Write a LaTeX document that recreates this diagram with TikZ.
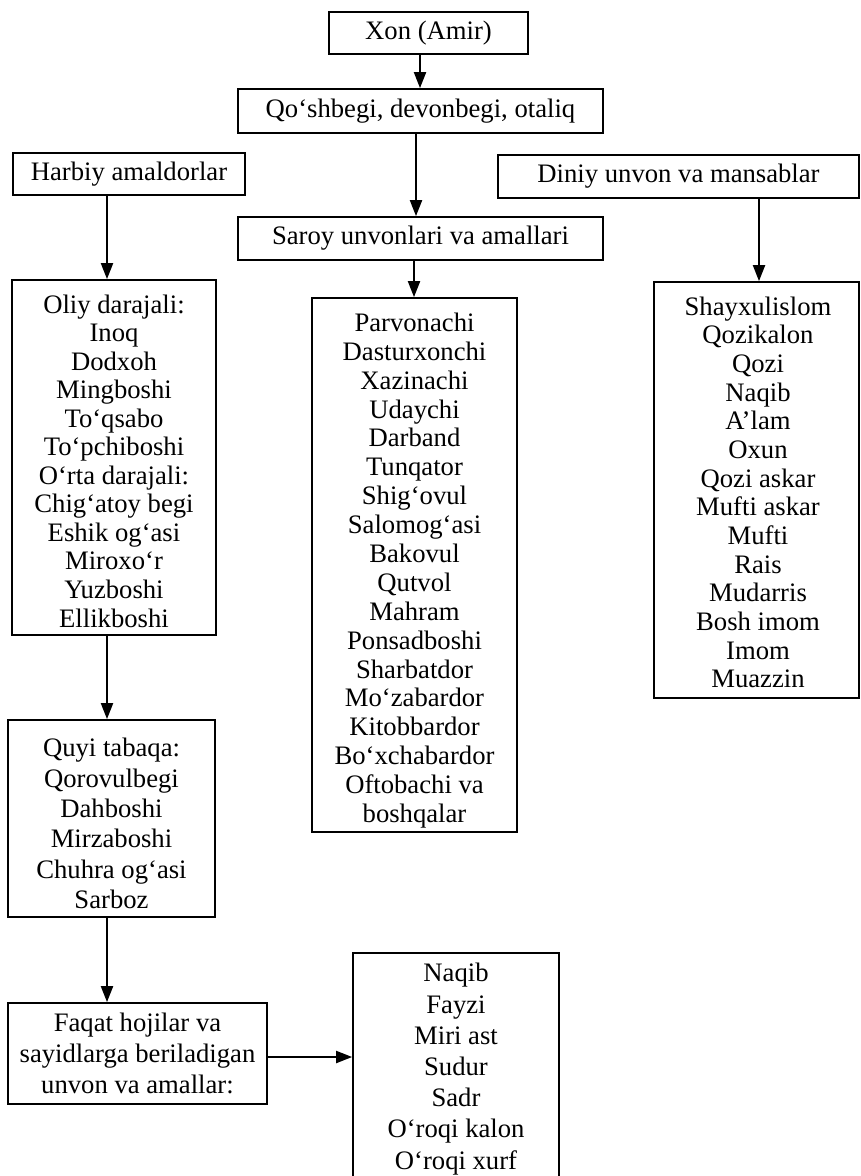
\documentclass[tikz,border=0pt]{standalone}
\usepackage{fontspec}
\setmainfont{Liberation Serif}
\usetikzlibrary{arrows.meta}
\tikzset{
  box/.style={draw, line width=1.3pt, inner sep=0pt, align=center,
              font=\fontsize{20}{21.5}\selectfont},
  frame/.style={draw, line width=1.3pt, inner sep=0pt},
  list/.style={inner sep=0pt, align=center},
  arr/.style={line width=1.5pt, -{Triangle[length=12pt,width=9pt]}},
}
\begin{document}
\begin{tikzpicture}[x=0.75pt,y=-0.75pt]
\useasboundingbox (0,0) rectangle (860,1176);
\fill[white] (0,0) rectangle (860,1176);

% header boxes
\node[box, minimum width=149.25pt, minimum height=31.5pt] (xon) at (428.5,33) {Xon (Amir)};
\node[box, minimum width=273.75pt, minimum height=33pt] (qosh) at (420.5,111) {Qo‘shbegi, devonbegi, otaliq};
\node[box, minimum width=174pt, minimum height=31.5pt] (harbiy) at (129,174) {Harbiy amaldorlar};
\node[box, minimum width=270.75pt, minimum height=32.25pt] (diniy) at (678.5,176.5) {Diniy unvon va mansablar};
\node[box, minimum width=273.75pt, minimum height=32.25pt] (saroy) at (420.5,238.5) {Saroy unvonlari va amallari};

% list boxes (frame + text)
\node[frame, minimum width=153pt, minimum height=266.25pt] (oliy) at (114,457.5) {};
\node[list, font=\fontsize{20}{21.4}\selectfont] (oliyt) at (114,461)
  {Oliy darajali:\\Inoq\\Dodxoh\\Mingboshi\\To‘qsabo\\To‘pchiboshi\\O‘rta darajali:\\Chig‘atoy begi\\Eshik og‘asi\\Miroxo‘r\\Yuzboshi\\Ellikboshi};

\node[frame, minimum width=153.75pt, minimum height=400.5pt] (mid) at (414.5,565) {};
\node[list, font=\fontsize{20}{21.67}\selectfont] (midt) at (414.5,570.5)
  {Parvonachi\\Dasturxonchi\\Xazinachi\\Udaychi\\Darband\\Tunqator\\Shig‘ovul\\Salomog‘asi\\Bakovul\\Qutvol\\Mahram\\Ponsadboshi\\Sharbatdor\\Mo‘zabardor\\Kitobbardor\\Bo‘xchabardor\\Oftobachi va\\boshqalar};

\node[frame, minimum width=153.75pt, minimum height=312pt] (din) at (756.5,490) {};
\node[list, font=\fontsize{20}{21.5}\selectfont] (dint) at (758,492.5)
  {Shayxulislom\\Qozikalon\\Qozi\\Naqib\\A’lam\\Oxun\\Qozi askar\\Mufti askar\\Mufti\\Rais\\Mudarris\\Bosh imom\\Imom\\Muazzin};

\node[frame, minimum width=155.25pt, minimum height=147.75pt] (quyi) at (111.5,818.5) {};
\node[list, font=\fontsize{20}{22.8}\selectfont] (quyit) at (111.5,823.5)
  {Quyi tabaqa:\\Qorovulbegi\\Dahboshi\\Mirzaboshi\\Chuhra og‘asi\\Sarboz};

\node[box, minimum width=194.25pt, minimum height=75.75pt, font=\fontsize{20}{23.5}\selectfont] (faqat) at (137.5,1053.5)
  {Faqat hojilar va\\sayidlarga beriladigan\\unvon va amallar:};

\node[frame, minimum width=154.5pt, minimum height=171pt] (naqib) at (456,1067) {};
\node[list, font=\fontsize{20}{23.4}\selectfont] (naqibt) at (456,1069)
  {Naqib\\Fayzi\\Miri ast\\Sudur\\Sadr\\O‘roqi kalon\\O‘roqi xurf};

% connector columns
\coordinate (ax1) at (420,0);
\coordinate (ax2) at (416,0);
\coordinate (ax3) at (414,0);
\coordinate (axl) at (107,0);
\coordinate (axr) at (759,0);
\coordinate (ayf) at (0,1057);

\draw[arr] (xon.south -| ax1) -- (qosh.north -| ax1);
\draw[arr] (qosh.south -| ax2) -- (saroy.north -| ax2);
\draw[arr] (saroy.south -| ax3) -- (mid.north -| ax3);
\draw[arr] (harbiy.south -| axl) -- (oliy.north -| axl);
\draw[arr] (diniy.south -| axr) -- (din.north -| axr);
\draw[arr] (oliy.south -| axl) -- (quyi.north -| axl);
\draw[arr] (quyi.south -| axl) -- (faqat.north -| axl);
\draw[arr] (faqat.east |- ayf) -- (naqib.west |- ayf);
\end{tikzpicture}
\end{document}
